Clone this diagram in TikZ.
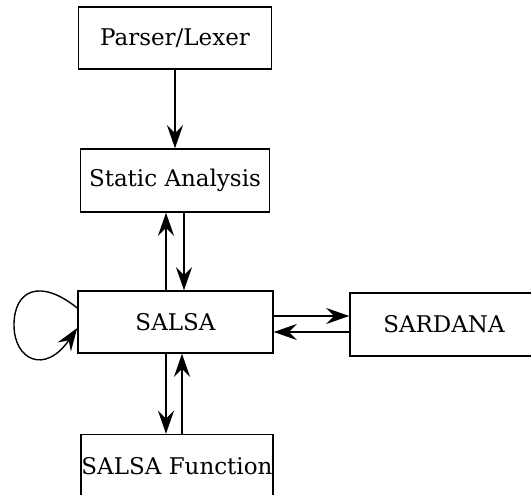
\documentclass[tikz,border=0pt]{standalone}
\usepackage{fontspec}
\setmainfont{DejaVu Serif}
\usetikzlibrary{arrows.meta,calc}
\begin{document}
\begin{tikzpicture}[x=1pt,y=-1pt,
  box/.style={draw,line width=1.5pt,rectangle,inner sep=0pt,font=\fontsize{23}{27}\selectfont},
  arr/.style={line width=1.4pt,-{Stealth[length=23pt,width=16pt,inset=8pt]}}]
\useasboundingbox (0,0) rectangle (531,495);
\node[box,minimum width=193pt,minimum height=62pt] (parser) at (175,38) {Parser/Lexer};
\node[box,minimum width=189pt,minimum height=63pt] (static) at (175,180.5) {Static Analysis};
\node[box,minimum width=195pt,minimum height=62pt] (salsa) at (175.5,322) {SALSA};
\node[box,minimum width=188pt,minimum height=63pt] (sardana) at (444,324.5) {SARDANA};
\node[box,minimum width=192pt,minimum height=63pt] (func) at (177,466) {SALSA Function};
\draw[arr] (parser.south) -- (static.north);
\draw[arr] ($(salsa.north)+(-9.5,0)$) -- ($(static.south)+(-9,0)$);
\draw[arr] ($(static.south)+(9,0)$) -- ($(salsa.north)+(8.5,0)$);
\draw[arr] ($(salsa.south)+(-9.5,0)$) -- ($(func.north)+(-11,0)$);
\draw[arr] ($(func.north)+(5,0)$) -- ($(salsa.south)+(6.5,0)$);
\draw[arr] ($(salsa.east)+(0,-6)$) -- ($(sardana.west)+(0,-8.5)$);
\draw[arr] ($(sardana.west)+(0,7.5)$) -- ($(salsa.east)+(0,10)$);
\draw[arr] ($(salsa.west)+(0,-14)$) .. controls (40,278) and (14,290) .. (14,325)
  .. controls (14,360) and (45,375) .. ($(salsa.west)+(0,6)$);
\end{tikzpicture}
\end{document}
